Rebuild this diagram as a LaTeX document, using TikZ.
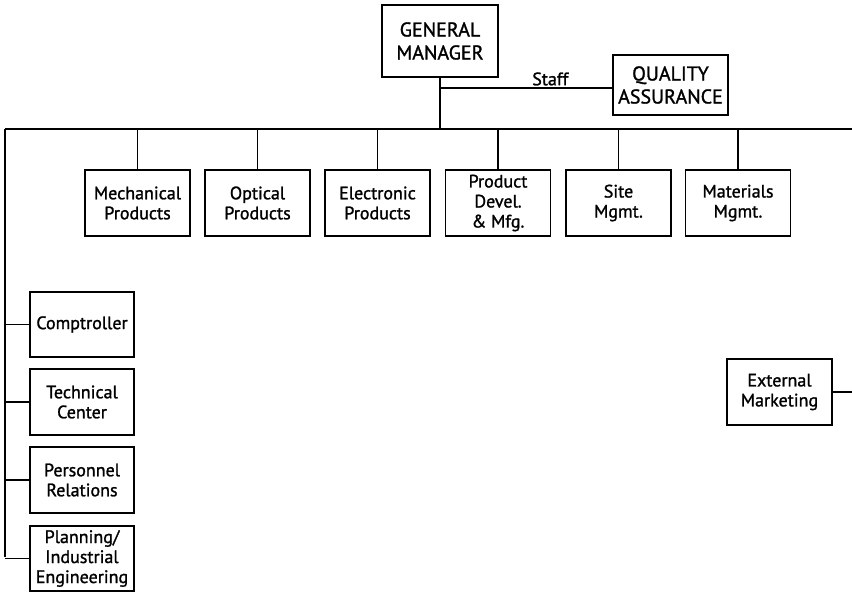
\documentclass[tikz,border=0pt]{standalone}
\usepackage{fontspec}
\setmainfont{PT Sans}[BoldFont=PT Sans,BoldFeatures={FakeBold=1.3}]
\begin{document}
\begin{tikzpicture}[x=1pt,y=-1pt,
  unit/.style={draw,line width=1.2pt,align=center,inner sep=0pt,
    minimum width=105pt,minimum height=66pt,
    font=\fontsize{18}{20}\selectfont\bfseries},
  head/.style={unit,font=\fontsize{20}{23}\selectfont\bfseries},
  link/.style={line width=1.1pt}]
\useasboundingbox (0,0) rectangle (852,592);

% top management
\node[head,minimum width=116pt,minimum height=72pt] (gm) at (440,41) {GENERAL\\MANAGER};
\node[head,minimum width=115pt,minimum height=60pt] (qa) at (670.5,85) {QUALITY\\ASSURANCE};

% operating units
\node[unit] (mech) at (137.5,203) {Mechanical\\Products};
\node[unit] (opt)  at (257.5,203) {Optical\\Products};
\node[unit] (elec) at (377.5,203) {Electronic\\Products};
\node[unit] (prod) at (498,203)   {Product\\Devel.\\\& Mfg.};
\node[unit] (site) at (618.5,203) {Site\\Mgmt.};
\node[unit] (mat)  at (738,203)   {Materials\\Mgmt.};

% support functions
\node[unit,minimum width=104pt,minimum height=65pt] (comp) at (82,324.5) {Comptroller};
\node[unit,minimum width=104pt] (tech) at (82,402) {Technical\\Center};
\node[unit,minimum width=104pt] (pers) at (82,480) {Personnel\\Relations};
\node[unit,minimum width=104pt,minimum height=65pt] (plan) at (82,558.5) {Planning/\\Industrial\\Engineering};

\node[unit] (ext) at (779.5,392) {External\\Marketing};

% bus lines
\coordinate (busL) at (5,129);
\coordinate (busR) at (852,129);
\coordinate (busGM) at (440,129);
\coordinate (staffT) at (440,88);
\coordinate (spineB) at (5,557);
\coordinate (extR) at (852,392);

\draw[link] (busL) -- (busR);
\draw[link] (gm.south) -- (busGM);
\draw[link] (staffT) -- node[above,pos=0.64,font=\fontsize{18}{20}\selectfont\bfseries,inner sep=2pt] {Staff} (staffT -| qa.west);
\draw[link] (busL) -- (spineB);

\foreach \n in {mech,opt,elec,prod,site,mat}
  \draw[link] (\n.north) -- (\n.north |- busL);
\foreach \n in {comp,tech,pers,plan}
  \draw[link] (\n.west) -- (\n.west -| busL);
\draw[link] (ext.east) -- (extR);
\end{tikzpicture}
\end{document}
